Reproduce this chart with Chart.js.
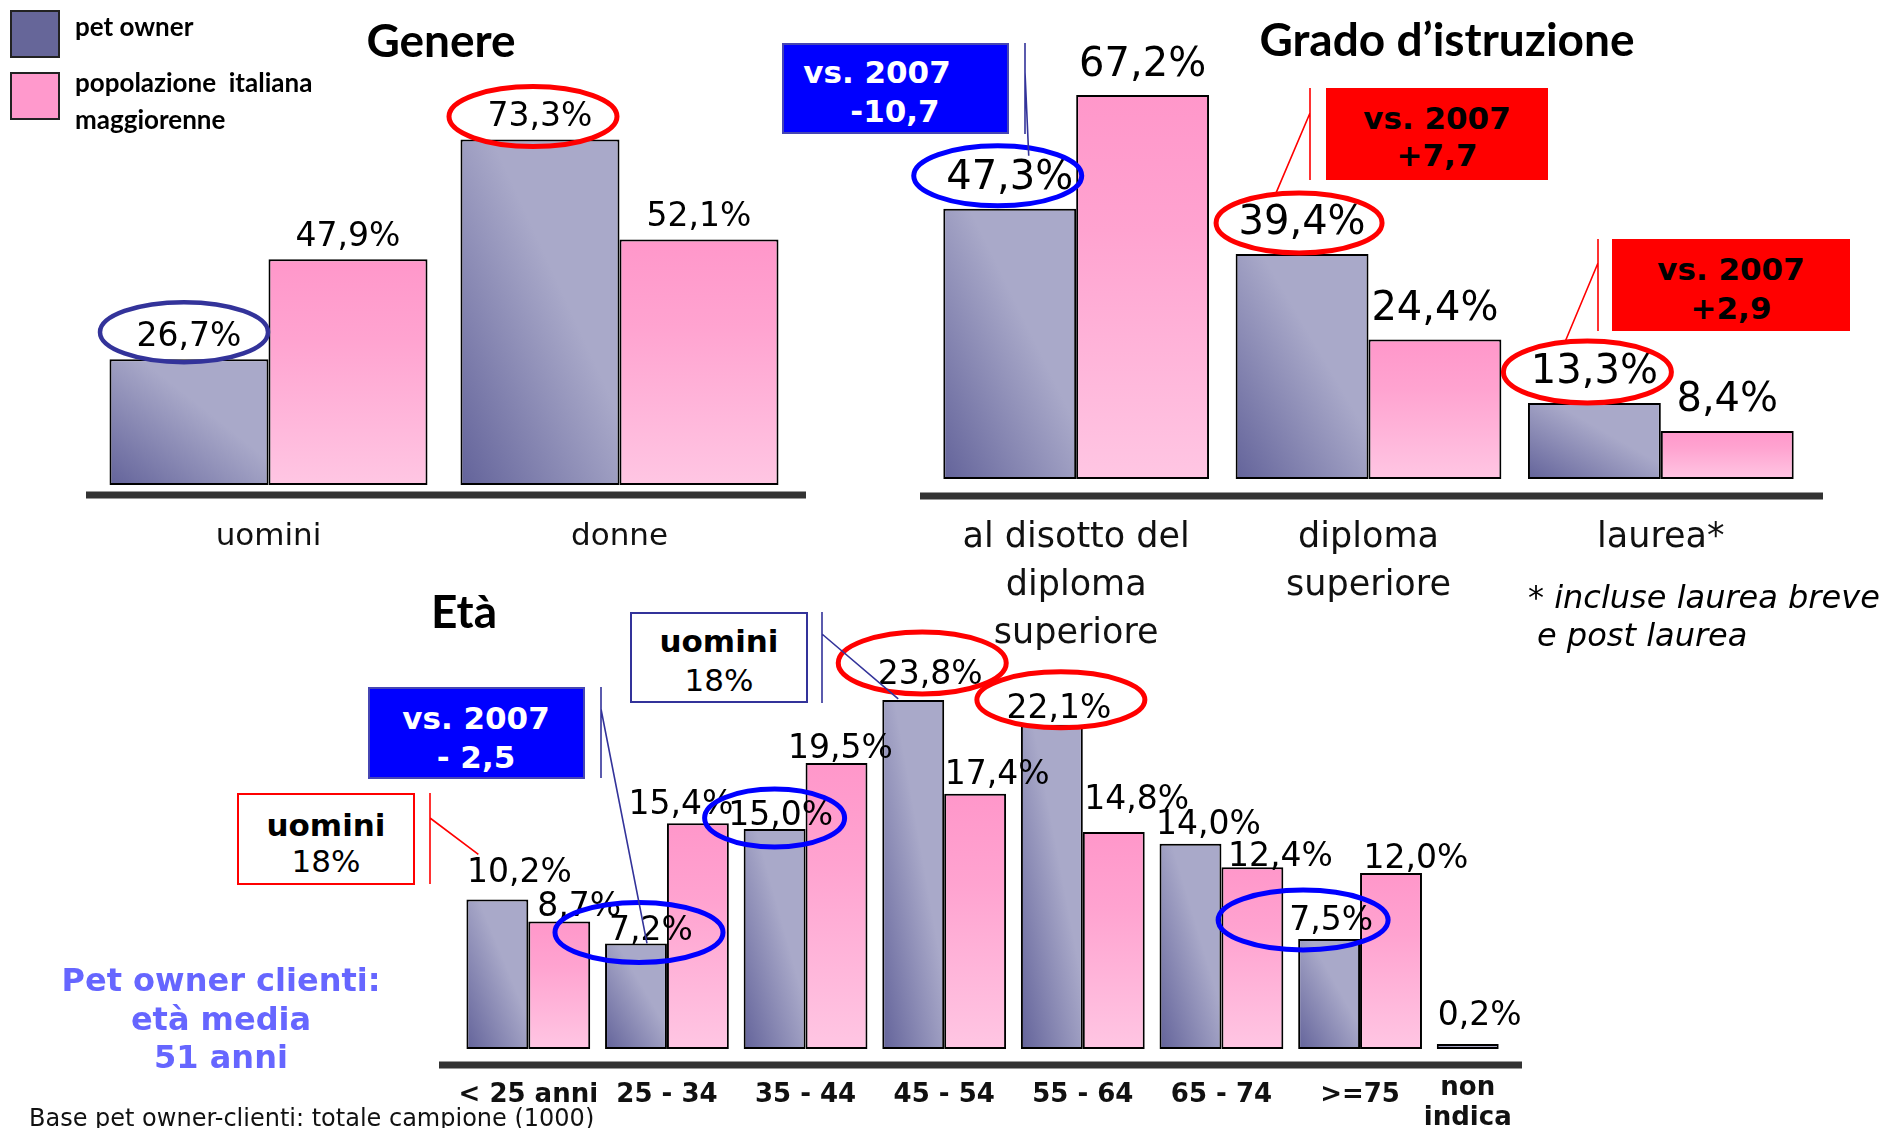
<!DOCTYPE html>
<html lang="it">
<head>
<meta charset="utf-8">
<title>Pet owner e popolazione italiana</title>
<script src="https://cdn.jsdelivr.net/npm/chart.js@4.4.1/dist/chart.umd.min.js"></script>
<style>
  html, body { margin: 0; padding: 0; background: #fff; }
  #pagina { position: relative; width: 1886px; height: 1128px; overflow: hidden; background: #fff; font-family: 'DejaVu Sans', sans-serif; }
  #pagina canvas { position: absolute; left: 0; top: 0; }
  .t { position: absolute; white-space: pre; line-height: 1; transform: translate(-50%, -50%); }
  .sx { transform: translate(0, -50%); }
  .titolo { font-family: Lato, 'Open Sans', sans-serif; font-weight: 700; font-size: 46px; color: #000; }
  .leg { font-family: Lato, 'Open Sans', sans-serif; font-weight: 700; font-size: 26px; color: #000; }
  .b31 { font-weight: bold; font-size: 31px; }
  .n31 { font-size: 31px; }
  .riquadro { position: absolute; box-sizing: border-box; }
</style>
</head>
<body>
<div id="pagina">
  <canvas id="graficoGenere" width="1886" height="1128"></canvas>
  <canvas id="graficoIstruzione" width="1886" height="1128"></canvas>
  <canvas id="graficoEta" width="1886" height="1128"></canvas>

  <!-- legenda -->
  <div class="riquadro" style="left:10px;top:10px;width:50px;height:48px;background:#666699;border:2px solid #222;"></div>
  <div class="riquadro" style="left:10px;top:72px;width:50px;height:48px;background:#ff99cc;border:2px solid #222;"></div>
  <div class="t sx leg" style="left:75px;top:26px;">pet owner</div>
  <div class="t sx leg" style="left:75px;top:82px;">popolazione  italiana</div>
  <div class="t sx leg" style="left:75px;top:119px;">maggiorenne</div>

  <!-- titoli -->
  <div class="t titolo" style="left:441px;top:40px;">Genere</div>
  <div class="t titolo" style="left:1447px;top:39px;">Grado d’istruzione</div>
  <div class="t titolo" style="left:464px;top:611px;">Età</div>

  <!-- riquadri grado d'istruzione -->
  <div class="riquadro" style="left:782px;top:43px;width:227px;height:91px;background:#0000ff;border:2px solid #4646b4;"></div>
  <div class="t b31" style="left:877px;top:72px;color:#fff;">vs. 2007</div>
  <div class="t b31" style="left:895px;top:111px;color:#fff;">-10,7</div>

  <div class="riquadro" style="left:1326px;top:88px;width:222px;height:92px;background:#ff0000;"></div>
  <div class="t b31" style="left:1437px;top:118px;color:#000;">vs. 2007</div>
  <div class="t b31" style="left:1437px;top:155px;color:#000;">+7,7</div>

  <div class="riquadro" style="left:1612px;top:239px;width:238px;height:92px;background:#ff0000;"></div>
  <div class="t b31" style="left:1731px;top:269px;color:#000;">vs. 2007</div>
  <div class="t b31" style="left:1731px;top:308px;color:#000;">+2,9</div>

  <div class="t" style="left:1528px;top:597px;font-size:32px;font-style:italic;transform:translate(0,-50%);">* incluse laurea breve</div>
  <div class="t" style="left:1537px;top:635px;font-size:32px;font-style:italic;transform:translate(0,-50%);">e post laurea</div>

  <!-- riquadri età -->
  <div class="riquadro" style="left:368px;top:687px;width:217px;height:92px;background:#0000ff;border:2px solid #4646b4;"></div>
  <div class="t b31" style="left:476px;top:718px;color:#fff;">vs. 2007</div>
  <div class="t b31" style="left:476px;top:757px;color:#fff;">- 2,5</div>

  <div class="riquadro" style="left:237px;top:793px;width:178px;height:92px;background:#fff;border:2px solid #ff0000;"></div>
  <div class="t b31" style="left:326px;top:825px;">uomini</div>
  <div class="t n31" style="left:326px;top:861px;">18%</div>

  <div class="riquadro" style="left:630px;top:612px;width:178px;height:91px;background:#fff;border:2px solid #33339a;"></div>
  <div class="t b31" style="left:719px;top:641px;">uomini</div>
  <div class="t n31" style="left:719px;top:680px;">18%</div>

  <div class="t" style="left:221px;top:980px;font-weight:bold;font-size:32px;color:#6666ff;">Pet owner clienti:</div>
  <div class="t" style="left:221px;top:1019px;font-weight:bold;font-size:32px;color:#6666ff;">età media</div>
  <div class="t" style="left:221px;top:1057px;font-weight:bold;font-size:32px;color:#6666ff;">51 anni</div>

  <div class="t" style="left:29px;top:1118px;font-size:24px;color:#111;transform:translate(0,-50%);">Base pet owner-clienti: totale campione (1000)</div>
</div>

<script>
// ---- dati ----
const genereLabels = ['uomini', 'donne'];
const generePetOwner = [26.7, 73.3];
const generePopolazione = [47.9, 52.1];

const istruzioneLabels = [['al disotto del', 'diploma', 'superiore'], ['diploma', 'superiore'], ['laurea*']];
const istruzionePetOwner = [47.3, 39.4, 13.3];
const istruzionePopolazione = [67.2, 24.4, 8.4];

const etaLabels = ['< 25 anni', '25 - 34', '35 - 44', '45 - 54', '55 - 64', '65 - 74', '>=75', ['non', 'indica']];
const etaPetOwner = [10.2, 7.2, 15.0, 23.8, 22.1, 14.0, 7.5, 0.2];
const etaPopolazione = [8.7, 15.4, 19.5, 17.4, 14.8, 12.4, 12.0, null];

// colori
const VIOLA_SCURO = '#63639a';
const VIOLA_CHIARO = '#a9a9c9';
const ROSA_FORTE = '#ff97ca';
const ROSA_CHIARO = '#ffc6e3';

function formato(v) {
    return v.toFixed(1).replace('.', ',') + '%';
}

// rettangolo della barra, calcolato dalle scale del grafico
function rettangoloBarra(c, catPct) {
    const chart = c.chart;
    const area = chart.chartArea;
    if (!area || c.raw == null) return null;
    const coppia = area.width / chart.data.labels.length * catPct;
    const cx = chart.scales.x.getPixelForValue(c.dataIndex);
    const left = cx - coppia / 2 + c.datasetIndex * coppia / 2;
    return {
        left: left,
        w: coppia / 2,
        top: chart.scales.y.getPixelForValue(c.raw),
        bottom: chart.scales.y.getPixelForValue(0)
    };
}

// sfumatura diagonale (in basso a sinistra scuro)
function sfondoViola(catPct) {
    return c => {
        const r = rettangoloBarra(c, catPct);
        if (!r) return VIOLA_SCURO;
        const w = r.w, h = Math.max(r.bottom - r.top, 1);
        const k = 2 / (w * w + h * h);
        const g = c.chart.ctx.createLinearGradient(r.left, r.bottom, r.left + k * w * h * h, r.bottom - k * h * w * w);
        g.addColorStop(0, VIOLA_SCURO);
        g.addColorStop(0.6, VIOLA_CHIARO);
        g.addColorStop(1, VIOLA_CHIARO);
        return g;
    };
}

function sfondoRosa(catPct) {
    return c => {
        const r = rettangoloBarra(c, catPct);
        if (!r) return ROSA_FORTE;
        const g = c.chart.ctx.createLinearGradient(0, r.top, 0, r.bottom);
        g.addColorStop(0, ROSA_FORTE);
        g.addColorStop(0.35, '#ffa3d0');
        g.addColorStop(1, ROSA_CHIARO);
        return g;
    };
}

// etichette, asse, ellissi e linee di richiamo
function pluginExtra(cfg) {
    return {
        id: 'extra',
        afterDatasetsDraw(chart) {
            const ctx = chart.ctx;
            const area = chart.chartArea;
            const barra = (ds, i) => chart.getDatasetMeta(ds).data[i];
            ctx.save();

            // linea di base
            ctx.fillStyle = '#333';
            ctx.fillRect(area.left + cfg.asse.da, area.bottom + cfg.asse.dy - 3.5,
                area.width - cfg.asse.da + cfg.asse.a, 7);

            // categorie
            ctx.font = cfg.cat.font;
            ctx.fillStyle = '#111';
            ctx.textAlign = 'center';
            ctx.textBaseline = 'middle';
            chart.data.labels.forEach((lab, i) => {
                const righe = Array.isArray(lab) ? lab : [lab];
                const visibili = chart.data.datasets
                    .map((ds, di) => ds.data[i] != null ? barra(di, i) : null)
                    .filter(Boolean);
                const x = visibili.reduce((s, b) => s + b.x, 0) / visibili.length;
                const y0 = area.bottom + cfg.cat.dy - (righe.length > 1 ? cfg.cat.alza : 0);
                righe.forEach((t, k) => ctx.fillText(t, x, y0 + k * cfg.cat.lh));
            });

            // valori
            ctx.font = cfg.valori.font;
            ctx.fillStyle = '#000';
            chart.data.datasets.forEach((ds, di) => {
                ds.data.forEach((v, i) => {
                    if (v == null) return;
                    const b = barra(di, i);
                    const s = cfg.valori.spost ? cfg.valori.spost[di][i] : [0, cfg.valori.dy];
                    ctx.fillText(formato(v), b.x + s[0], b.y + s[1] + 5);
                });
            });

            // ellissi
            (cfg.ellissi || []).forEach(e => {
                const b = barra(e.ds, e.i);
                ctx.beginPath();
                ctx.ellipse(b.x + e.dx, b.y + e.dy, e.rx, e.ry, 0, 0, Math.PI * 2);
                ctx.lineWidth = e.lw;
                ctx.strokeStyle = e.colore;
                ctx.stroke();
            });

            // linee di richiamo
            (cfg.richiami || []).forEach(r => {
                const b = barra(r.ds, r.i);
                ctx.strokeStyle = r.colore;
                ctx.lineWidth = 1.6;
                ctx.beginPath();
                ctx.moveTo(r.x, r.y1);
                ctx.lineTo(r.x, r.y2);
                ctx.moveTo(r.x, r.yp);
                ctx.lineTo(b.x + r.dx, b.y + r.dy);
                ctx.stroke();
            });

            ctx.restore();
        }
    };
}

function creaGrafico(id, labels, petOwner, popolazione, catPct, yMax, padding, cfg) {
    return new Chart(document.getElementById(id), {
        type: 'bar',
        data: {
            labels: labels,
            datasets: [
                {
                    label: 'pet owner',
                    data: petOwner,
                    backgroundColor: sfondoViola(catPct),
                    borderColor: '#000',
                    borderWidth: 2,
                    borderSkipped: false,
                    minBarLength: 5,
                    categoryPercentage: catPct,
                    barPercentage: 1.0
                },
                {
                    label: 'popolazione italiana maggiorenne',
                    data: popolazione,
                    backgroundColor: sfondoRosa(catPct),
                    borderColor: '#000',
                    borderWidth: 2,
                    borderSkipped: false,
                    categoryPercentage: catPct,
                    barPercentage: 1.0
                }
            ]
        },
        options: {
            responsive: false,
            animation: false,
            devicePixelRatio: 1,
            layout: { padding: padding },
            scales: {
                x: { display: false },
                y: { display: false, min: 0, max: yMax }
            },
            plugins: {
                legend: { display: false },
                tooltip: { enabled: false },
                title: { display: false }
            }
        },
        plugins: [pluginExtra(cfg)]
    });
}

const ROSSO = '#ff0000', BLU = '#0000ff', NAVY = '#33339a';

creaGrafico('graficoGenere', genereLabels, generePetOwner, generePopolazione, 0.906, 80,
    { left: 93, right: 1091, top: 108, bottom: 643 },
    {
        asse: { dy: 10, da: -7, a: 11 },
        cat: { font: '31px "DejaVu Sans"', dy: 52, lh: 40, alza: 0 },
        valori: { font: '33px "DejaVu Sans"', dy: -27 },
        ellissi: [
            { ds: 0, i: 0, dx: -5, dy: -27, rx: 84, ry: 30, colore: NAVY, lw: 4.5 },
            { ds: 0, i: 1, dx: -7, dy: -23, rx: 84, ry: 30, colore: ROSSO, lw: 5 }
        ]
    });

creaGrafico('graficoIstruzione', istruzioneLabels, istruzionePetOwner, istruzionePopolazione, 0.909, 80,
    { left: 930, right: 79, top: 22, bottom: 649 },
    {
        asse: { dy: 17, da: -10, a: 16 },
        cat: { font: '35px "DejaVu Sans"', dy: 59, lh: 48, alza: 0 },
        valori: { font: '40px "DejaVu Sans"', dy: -35 },
        ellissi: [
            { ds: 0, i: 0, dx: -12, dy: -33, rx: 84, ry: 30, colore: BLU, lw: 5 },
            { ds: 0, i: 1, dx: -3, dy: -31, rx: 83, ry: 30, colore: ROSSO, lw: 5 },
            { ds: 0, i: 2, dx: -7, dy: -31, rx: 84, ry: 31, colore: ROSSO, lw: 5 }
        ],
        richiami: [
            { x: 1025, y1: 43, y2: 134, yp: 72, ds: 0, i: 0, dx: 19, dy: -53, colore: NAVY },
            { x: 1310, y1: 88, y2: 180, yp: 113, ds: 0, i: 1, dx: -26, dy: -61, colore: ROSSO },
            { x: 1598, y1: 239, y2: 331, yp: 263, ds: 0, i: 2, dx: -29, dy: -62, colore: ROSSO }
        ]
    });

creaGrafico('graficoEta', etaLabels, etaPetOwner, etaPopolazione, 0.893, 30,
    { left: 459, right: 318, top: 609, bottom: 79 },
    {
        asse: { dy: 16, da: -20, a: -46 },
        cat: { font: 'bold 26px "DejaVu Sans"', dy: 46, lh: 30, alza: 7 },
        valori: {
            font: '33px "DejaVu Sans"',
            spost: [
                [[22, -31], [15, -17], [6, -18], [17, -30], [7, -20], [18, -23], [2, -23], [12, -33]],
                [[20, -19], [-17, -23], [4, -19], [22, -23], [23, -37], [28, -15], [25, -19], [0, 0]]
            ]
        },
        ellissi: [
            { ds: 0, i: 1, dx: 3, dy: -11, rx: 84, ry: 30, colore: BLU, lw: 5 },
            { ds: 0, i: 2, dx: 0, dy: -11, rx: 70, ry: 29, colore: BLU, lw: 5 },
            { ds: 0, i: 3, dx: 9, dy: -37, rx: 84, ry: 31, colore: ROSSO, lw: 5 },
            { ds: 0, i: 4, dx: 9, dy: -25, rx: 84, ry: 28, colore: ROSSO, lw: 5 },
            { ds: 0, i: 6, dx: -26, dy: -19, rx: 85, ry: 30, colore: BLU, lw: 5 }
        ],
        richiami: [
            { x: 430, y1: 793, y2: 884, yp: 818, ds: 0, i: 0, dx: -19, dy: -45, colore: ROSSO },
            { x: 601, y1: 687, y2: 778, yp: 709, ds: 0, i: 1, dx: 11, dy: 0, colore: NAVY },
            { x: 822, y1: 612, y2: 703, yp: 634, ds: 0, i: 3, dx: -15, dy: -1, colore: NAVY }
        ]
    });
</script>
</body>
</html>
